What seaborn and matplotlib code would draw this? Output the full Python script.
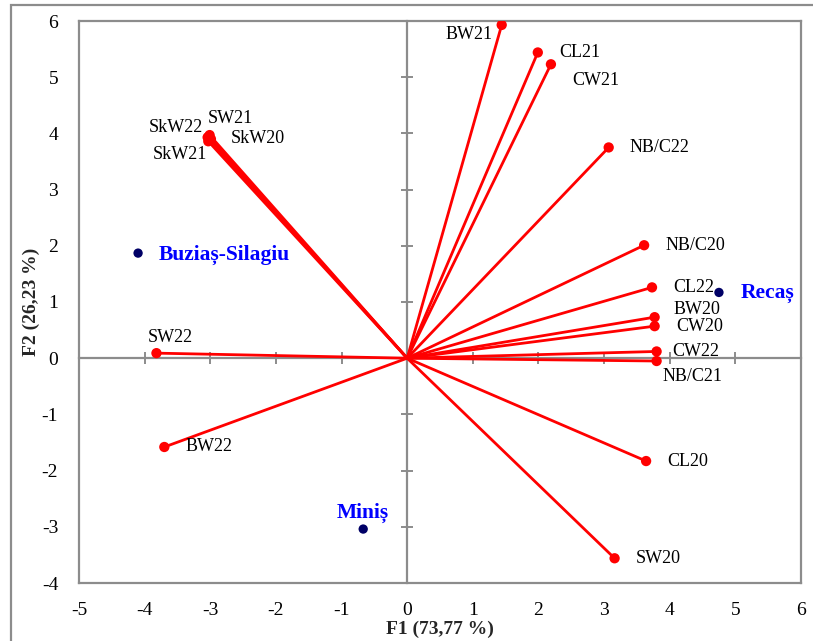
import pandas as pd
import seaborn as sns
import matplotlib.pyplot as plt
from matplotlib.patches import Rectangle

# Loadings (red vectors)
variables = ['BW21', 'CL21', 'CW21', 'NB/C22', 'NB/C20', 'CL22', 'BW20', 'CW20',
             'CW22', 'NB/C21', 'CL20', 'SW20', 'SW22', 'BW22',
             'SkW22', 'SW21', 'SkW20', 'SkW21']
f1_load = [1.44, 1.99, 2.19, 3.07, 3.61, 3.73, 3.77, 3.77,
           3.80, 3.80, 3.64, 3.16, -3.82, -3.70,
           -3.04, -3.01, -2.99, -3.03]
f2_load = [5.93, 5.44, 5.23, 3.75, 2.01, 1.26, 0.73, 0.57,
           0.12, -0.05, -1.83, -3.56, 0.09, -1.58,
           3.93, 3.97, 3.90, 3.86]

# Observations (blue points)
sites = ['Buziaș-Silagiu', 'Recaș', 'Miniș']
f1_obs = [-4.10, 4.75, -0.67]
f2_obs = [1.87, 1.17, -3.04]

# label offsets in pixels (dx, dy, ha)
load_offsets = {
    'BW21': (-9, -10, 'right'), 'CL21': (21, 0, 'left'), 'CW21': (21, -16, 'left'),
    'NB/C22': (21, 0, 'left'), 'NB/C20': (21, 0, 'left'), 'CL22': (21, 0, 'left'),
    'BW20': (19, 8, 'left'), 'CW20': (22, 0, 'left'), 'CW22': (16, 0, 'left'),
    'NB/C21': (6, -15, 'left'), 'CL20': (21, 0, 'left'), 'SW20': (21, 0, 'left'),
    'SW22': (-9, 16, 'left'), 'BW22': (21, 0, 'left'),
    'SkW22': (-5, 10, 'right'), 'SW21': (-2, 17, 'left'),
    'SkW20': (20, 1, 'left'), 'SkW21': (-1, -13, 'right'),
}
obs_offsets = {
    'Buziaș-Silagiu': (21, -2, 'left'), 'Recaș': (22, -1, 'left'), 'Miniș': (0, 16, 'center'),
}

sns.set_style('white')
plt.rcParams['font.family'] = ['Liberation Serif', 'DejaVu Serif']
plt.rcParams['axes.unicode_minus'] = False
grey = '#8c8c8c'

fig = plt.figure(figsize=(8.13, 6.41), dpi=100)
pos = [79 / 813, 1 - 583 / 641, (801 - 79) / 813, (583 - 21) / 641]

# frame axes: box and tick labels
frame = fig.add_axes(pos, zorder=0)
frame.set_xlim(-5, 6)
frame.set_ylim(-4, 6)
frame.set_xticks(range(-5, 7))
frame.set_yticks(range(-4, 7))
frame.tick_params(length=0, labelsize=14, colors='black')
frame.tick_params(axis='x', pad=14)
frame.tick_params(axis='y', pad=15)
for s in frame.spines.values():
    s.set_visible(True)
    s.set_color(grey)
    s.set_linewidth(1.6)
frame.set_xlabel('F1 (73,77 %)', fontsize=14, fontweight='bold', labelpad=1)
frame.set_ylabel('F2 (26,23 %)', fontsize=14, fontweight='bold')
frame.yaxis.set_label_coords(-0.054, 0.5)

# data axes: axis lines through origin
ax = fig.add_axes(pos, zorder=1, sharex=frame, sharey=frame)
ax.patch.set_visible(False)
ax.spines['top'].set_visible(False)
ax.spines['right'].set_visible(False)
ax.spines['left'].set_position('zero')
ax.spines['bottom'].set_position('zero')
for k in ['left', 'bottom']:
    ax.spines[k].set_color(grey)
    ax.spines[k].set_linewidth(1.6)
    ax.spines[k].set_zorder(1)
ax.tick_params(bottom=True, left=True, direction='inout', length=9, width=1.4,
               color=grey, labelleft=False, labelbottom=False)

# vectors from the origin
seg = pd.DataFrame({
    'var': variables * 2,
    'x': [0.0] * len(variables) + f1_load,
    'y': [0.0] * len(variables) + f2_load,
    'order': [0] * len(variables) + [1] * len(variables),
}).sort_values(['var', 'order'])
sns.lineplot(data=seg, x='x', y='y', units='var', estimator=None, sort=False,
             color='#ff0000', linewidth=2.0, ax=ax, zorder=3, legend=False)
sns.scatterplot(x=f1_load, y=f2_load, color='#ff0000', s=55, edgecolor='none',
                ax=ax, zorder=4)
sns.scatterplot(x=f1_obs, y=f2_obs, color='#000066', s=45, edgecolor='none',
                ax=ax, zorder=4)

for name, x, y in zip(variables, f1_load, f2_load):
    dx, dy, ha = load_offsets[name]
    ax.annotate(name, (x, y), xytext=(dx, dy), textcoords='offset pixels',
                ha=ha, va='center', fontsize=13, color='black')

for name, x, y in zip(sites, f1_obs, f2_obs):
    dx, dy, ha = obs_offsets[name]
    ax.annotate(name, (x, y), xytext=(dx, dy), textcoords='offset pixels',
                ha=ha, va='center', fontsize=15.5, fontweight='bold', color='#0000ff')

ax.set_xlabel('')
ax.set_ylabel('')
ax.set_xlim(-5, 6)
ax.set_ylim(-4, 6)

# outer chart border
fig.patches.append(Rectangle((11 / 813, -0.1), 1.1, 1 - 5 / 641 + 0.1,
                             transform=fig.transFigure, fill=False,
                             edgecolor=grey, linewidth=1.6))

fig.savefig('out.png', dpi=100)
